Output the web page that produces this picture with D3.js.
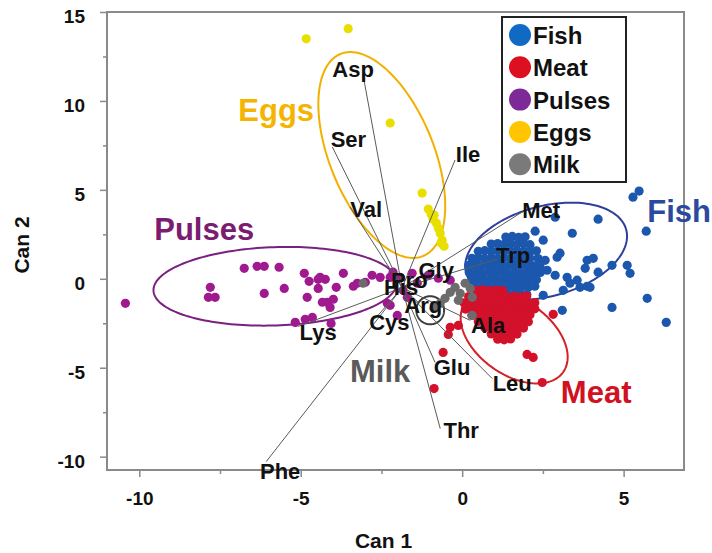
<!DOCTYPE html>
<html>
<head>
<meta charset="utf-8">
<script src="https://cdn.jsdelivr.net/npm/d3@7"></script>
<style>
  body { margin: 0; background: #fff; }
  svg text { font-family: "Liberation Sans", Arial, Helvetica, sans-serif; font-weight: bold; }
</style>
</head>
<body>
<svg id="chart" width="712" height="553"></svg>
<script>
// ---- data -------------------------------------------------------------
const groups = ["Fish", "Meat", "Pulses", "Eggs", "Milk"];

// canonical scores per food group [Can 1, Can 2]
const fishScores = [
  [1.35,2.35],[1.55,2.38],[1.75,2.33],[1.95,2.36],
  [0.9,1.95],[1.1,1.98],[1.3,1.93],[1.5,1.97],[1.7,1.94],[1.9,1.98],[2.1,1.92],
  [0.5,1.55],[0.7,1.58],[0.9,1.53],[1.1,1.57],[1.3,1.54],[1.5,1.58],[1.7,1.53],[1.9,1.56],[2.1,1.52],[2.3,1.57],
  [0.3,1.15],[0.5,1.18],[0.7,1.13],[0.9,1.17],[1.1,1.14],[1.3,1.18],[1.5,1.12],[1.7,1.16],[1.9,1.13],[2.1,1.17],[2.35,1.14],
  [0.2,0.75],[0.4,0.78],[0.6,0.73],[0.8,0.77],[1.0,0.74],[1.2,0.78],[1.4,0.72],[1.6,0.76],[1.8,0.74],[2.0,0.78],[2.2,0.73],[2.4,0.76],
  [0.22,0.35],[0.42,0.38],[0.62,0.33],[0.82,0.37],[1.02,0.34],[1.22,0.38],[1.42,0.32],[1.62,0.36],[1.82,0.34],[2.02,0.37],[2.22,0.33],[2.42,0.36],
  [0.3,-0.05],[0.5,-0.02],[0.7,-0.07],[0.9,-0.03],[1.1,-0.06],[1.3,-0.02],[1.5,-0.08],[1.7,-0.04],[1.9,-0.06],[2.1,-0.02],[2.3,-0.05],
  [0.45,-0.45],[0.65,-0.42],[0.85,-0.47],[1.05,-0.43],[1.25,-0.46],[1.45,-0.42],[1.65,-0.48],[1.85,-0.44],[2.05,-0.46],[2.25,-0.42],
  [0.8,-0.85],[1.0,-0.82],[1.2,-0.87],[1.4,-0.83],[1.6,-0.86],[1.8,-0.82],[2.0,-0.87],
  [1.1,-1.2],[1.3,-1.17],[1.5,-1.22],[1.7,-1.18],
  [2.26,2.68],[2.88,3.46],[4.21,3.35],[3.41,2.56],[2.51,2.17],[3.03,1.44],[2.94,1.21],[2.57,1.04],
  [2.41,0.65],[2.63,0.48],[2.88,0.2],[3.25,0.08],[3.56,-0.08],[3.87,1.04],[4.06,1.15],[3.81,0.59],
  [4.21,0.37],[4.64,0.76],[5.11,0.76],[5.2,0.31],[3.65,-0.48],[3.96,-0.48],[3.34,-0.25],[3.13,-0.65],
  [2.51,-0.93],[3.1,-1.77],[4.64,-1.61],[5.29,4.59],[5.48,4.93],[5.7,2.68],[6.32,-2.45],[5.73,-1.1],[3.87,-0.42]
];
const meatScores = [
  [0.45,-0.65],[0.65,-0.62],[0.85,-0.67],[1.05,-0.63],[1.25,-0.66],
  [0.2,-1.0],[0.4,-0.97],[0.6,-1.02],[0.8,-0.98],[1.0,-1.01],[1.2,-0.97],[1.4,-1.02],[1.6,-0.98],[1.8,-1.01],[2.0,-0.97],
  [0.05,-1.35],[0.25,-1.32],[0.45,-1.37],[0.65,-1.33],[0.85,-1.36],[1.05,-1.32],[1.25,-1.37],[1.45,-1.33],[1.65,-1.36],[1.85,-1.32],[2.05,-1.37],[2.25,-1.34],
  [0.1,-1.7],[0.3,-1.67],[0.5,-1.72],[0.7,-1.68],[0.9,-1.71],[1.1,-1.67],[1.3,-1.72],[1.5,-1.68],[1.7,-1.71],[1.9,-1.67],[2.1,-1.72],[2.25,-1.69],
  [0.3,-2.05],[0.5,-2.02],[0.7,-2.07],[0.9,-2.03],[1.1,-2.06],[1.3,-2.02],[1.5,-2.07],[1.7,-2.03],[1.9,-2.06],[2.1,-2.02],
  [0.5,-2.4],[0.7,-2.37],[0.9,-2.42],[1.1,-2.38],[1.3,-2.41],[1.5,-2.37],[1.7,-2.42],[1.9,-2.38],[2.05,-2.41],
  [0.7,-2.75],[0.9,-2.72],[1.1,-2.77],[1.3,-2.73],[1.5,-2.76],[1.7,-2.72],[1.9,-2.77],
  [0.9,-3.1],[1.1,-3.07],[1.3,-3.12],[1.5,-3.08],[1.7,-3.11],
  [1.1,-3.4],[1.3,-3.43],[1.5,-3.38],
  [2.82,-2.0],[2.01,-4.25],[2.2,-4.42],[2.48,-5.83],[-0.37,-2.73],[-0.43,-3.13],[-0.59,-4.14],[-0.87,-6.17],[-0.12,-2.62]
];
const pulsesScores = [
  [-10.43,-1.38],[-7.80,-0.48],[-7.86,-1.04],[-7.65,-1.04],[-6.75,0.59],[-6.35,0.70],[-6.13,0.70],[-5.67,0.65],
  [-6.13,-0.82],[-5.51,-0.54],[-4.89,0.31],[-4.74,-0.14],[-4.46,-0.03],[-4.24,-0.03],[-3.68,0.31],[-4.46,-0.54],
  [-3.90,-0.48],[-3.37,-0.42],[-3.25,-0.25],[-4.80,-1.04],[-4.33,-1.32],[-4.18,-1.32],[-3.99,-1.15],[-5.17,-2.45],
  [-4.86,-2.28],[-4.64,-2.17],[-4.06,-2.51],[-4.40,0.08],[-4.09,-1.61],[-2.79,0.20],[-2.54,0.08],[-2.23,0.08],
  [-2.14,0.37],[-1.92,0.08],[-1.55,0.31],[-1.05,0.20],[-0.74,0.03],[-0.37,-0.08],[-1.83,-0.65],[-1.70,-1.04],
  [-2.23,-1.49],[-2.01,-2.06],[-2.32,-1.38],[-1.39,-0.25],[-3.00,-0.20]
];
const eggsScores = [
  [-4.83,13.49],[-3.53,14.06],[-2.23,8.76],[-1.24,4.82],[-1.05,3.92],[-0.96,3.63],[-0.87,3.58],
  [-0.90,3.35],[-0.80,3.13],[-0.74,2.85],[-0.68,2.56],[-0.65,2.00],[-0.62,2.17],[-0.56,1.83]
];
const milkScores = [
  [-3.07,-0.25],[-0.22,-0.48],[0.09,-0.25],[-0.06,-0.82],[0.25,-0.54],[-0.37,-0.76],
  [-0.53,-1.10],[0.31,-1.04],[0.31,-2.06],[-0.68,-1.38],[-0.87,-1.66],[-0.12,-1.21]
];
const groupScores = [fishScores, meatScores, pulsesScores, eggsScores, milkScores];

// group confidence ellipses: centre and two conjugate half-axes (data units)
const ellipseCenter = [[2.60,1.55],[1.61,-3.30],[-5.79,-0.42],[-2.49,6.96],[-0.99,-1.77]];
const ellipseAxisU  = [[2.48,1.21],[1.52,-1.94],[3.77,0.24],[-1.28,5.68],[0.43,0]];
const ellipseAxisV  = [[0.36,-2.45],[-0.66,-1.71],[0.04,-2.20],[1.49,1.11],[0,-0.79]];

// structure coefficients of the amino acids (vector tips)
const aminoAcids = ["Asp","Ser","Val","Ile","Met","Trp","Gly","Pro","His","Arg","Cys","Lys","Ala","Glu","Leu","Thr","Phe"];
const aminoTips = [
  [-3.07,11.46],[-4.02,7.41],[-3.47,4.03],[-0.22,6.68],[1.95,3.86],[1.08,1.10],[-1.30,-0.08],[-1.67,-0.37],
  [-1.98,-0.76],[-1.36,-1.32],[-2.69,-2.23],[-5.08,-2.68],[0.25,-2.34],[-0.84,-4.70],[0.93,-5.61],[-0.68,-8.42],[-6.07,-10.28]
];
const vectorOrigin = [-1.86, -0.5];

// group name annotations (data units)
const groupLabelAt = [[6.72,3.18],[4.15,-6.96],[-7.99,2.17],[-5.76,8.87],[-2.54,-5.83]];

const xTickValues = [-10, -5, 0, 5];
const xMinorTicks = [-7.5, -2.5, 2.5];
const yTickValues = [-10, -5, 0, 5, 10, 15];
const yMinorTicks = [-7.5, -2.5, 2.5, 7.5, 12.5];

// ---- styling ----------------------------------------------------------
const dotColor    = ["#1b58ad", "#d3112b", "#a01a8f", "#e8df00", "#6c6c6c"];
const ellipseColor= ["#2e3f9e", "#d52024", "#7a2080", "#f2b000", "#3c3c3c"];
const labelColor  = ["#2b4a9e", "#d01222", "#7b1c70", "#f5b400", "#5a5a5a"];
const legendColor = ["#1069c2", "#dd1020", "#7d2a98", "#ffc600", "#7a7a7a"];
// label placement relative to each vector tip, in pixels [dx, baseline dy]
const tipLabelOffset = {
  Asp:[-10,2], Ser:[16,0], Val:[16,10], Ile:[13,2], Met:[16,8], Trp:[16,4], Gly:[16,-2],
  Pro:[1,3], His:[3,3], Arg:[5,11], Cys:[14,12], Lys:[20,14], Ala:[18,13], Glu:[17,13],
  Leu:[20,12], Thr:[21,9], Phe:[14,17]
};

// ---- chart ------------------------------------------------------------
const svg = d3.select("#chart");
const plotLeft = 107, plotRight = 684, plotTop = 12, plotBottom = 470;
const x = d3.scaleLinear().domain([-11, 6.87]).range([plotLeft, plotRight]);
const y = d3.scaleLinear().domain([-10.75, 15]).range([plotBottom, plotTop]);

// axes (plain hyphen for negative tick labels)
const tickText = d => String(d);
const axisColor = "#8a8a8a";
const gx = svg.append("g").attr("transform", `translate(0,${plotBottom})`)
  .call(d3.axisBottom(x).tickValues(xTickValues).tickSize(7).tickPadding(15).tickFormat(tickText));
const gxm = svg.append("g").attr("transform", `translate(0,${plotBottom})`)
  .call(d3.axisBottom(x).tickValues(xMinorTicks).tickSize(4).tickFormat(""));
const gy = svg.append("g").attr("transform", `translate(${plotLeft},0)`)
  .call(d3.axisLeft(y).tickValues(yTickValues).tickSize(7).tickPadding(15).tickFormat(tickText));
const gym = svg.append("g").attr("transform", `translate(${plotLeft},0)`)
  .call(d3.axisLeft(y).tickValues(yMinorTicks).tickSize(4).tickFormat(""));
[gx, gxm, gy, gym].forEach(g => {
  g.select(".domain").remove();
  g.selectAll(".tick line").attr("stroke", axisColor).attr("stroke-width", 1.5);
  g.selectAll("text").attr("fill", "#111").attr("font-size", 19)
   .style("font-family", '"Liberation Sans", Arial, sans-serif').style("font-weight", "bold");
});
gy.selectAll("text").attr("dy", "0.55em");

// plot frame
svg.append("rect").attr("x", plotLeft).attr("y", plotTop)
  .attr("width", plotRight - plotLeft).attr("height", plotBottom - plotTop)
  .attr("fill", "none").attr("stroke", axisColor).attr("stroke-width", 2);

// axis titles
svg.append("text").attr("x", (plotLeft + plotRight) / 2 - 12).attr("y", 548)
  .attr("text-anchor", "middle").attr("font-size", 21).attr("fill", "#111").text("Can 1");
svg.append("text").attr("transform", "translate(29,245) rotate(-90)")
  .attr("text-anchor", "middle").attr("font-size", 21).attr("fill", "#111").text("Can 2");

// ellipses
const ellipseLine = d3.line().x(p => x(p[0])).y(p => y(p[1])).curve(d3.curveLinearClosed);
const steps = d3.range(0, 2 * Math.PI, Math.PI / 90);
groups.forEach((g, i) => {
  const c = ellipseCenter[i], u = ellipseAxisU[i], v = ellipseAxisV[i];
  const pts = steps.map(t => [c[0] + Math.cos(t) * u[0] + Math.sin(t) * v[0],
                              c[1] + Math.cos(t) * u[1] + Math.sin(t) * v[1]]);
  svg.append("path").attr("d", ellipseLine(pts))
    .attr("fill", "none").attr("stroke", ellipseColor[i]).attr("stroke-width", 2);
});

// score points
groups.forEach((g, i) => {
  svg.append("g").selectAll("circle").data(groupScores[i]).join("circle")
    .attr("cx", d => x(d[0])).attr("cy", d => y(d[1])).attr("r", 4.6)
    .attr("fill", dotColor[i]);
});

// amino-acid vectors
svg.append("g").selectAll("line").data(aminoTips).join("line")
  .attr("x1", x(vectorOrigin[0])).attr("y1", y(vectorOrigin[1]))
  .attr("x2", d => x(d[0])).attr("y2", d => y(d[1]))
  .attr("stroke", "#5a5a5a").attr("stroke-width", 1);
svg.append("g").selectAll("text").data(aminoAcids).join("text")
  .attr("x", (d, i) => x(aminoTips[i][0]) + tipLabelOffset[d][0])
  .attr("y", (d, i) => y(aminoTips[i][1]) + tipLabelOffset[d][1])
  .attr("text-anchor", "middle").attr("font-size", 22).attr("fill", "#111")
  .text(d => d);

// group annotations
svg.append("g").selectAll("text").data(groups).join("text")
  .attr("x", (d, i) => x(groupLabelAt[i][0])).attr("y", (d, i) => y(groupLabelAt[i][1]))
  .attr("text-anchor", "middle").attr("font-size", 31)
  .attr("fill", (d, i) => labelColor[i]).text(d => d);

// legend
const lg = svg.append("g");
lg.append("rect").attr("x", 502).attr("y", 17).attr("width", 124).attr("height", 165)
  .attr("fill", "#fff").attr("stroke", "#222").attr("stroke-width", 2);
const item = lg.selectAll("g.item").data(groups).join("g").attr("class", "item")
  .attr("transform", (d, i) => `translate(520,${35 + i * 32.3})`);
item.append("circle").attr("r", 11).attr("fill", (d, i) => legendColor[i]);
item.append("text").attr("x", 13).attr("y", 9).attr("font-size", 24).attr("fill", "#111").text(d => d);
</script>
</body>
</html>
